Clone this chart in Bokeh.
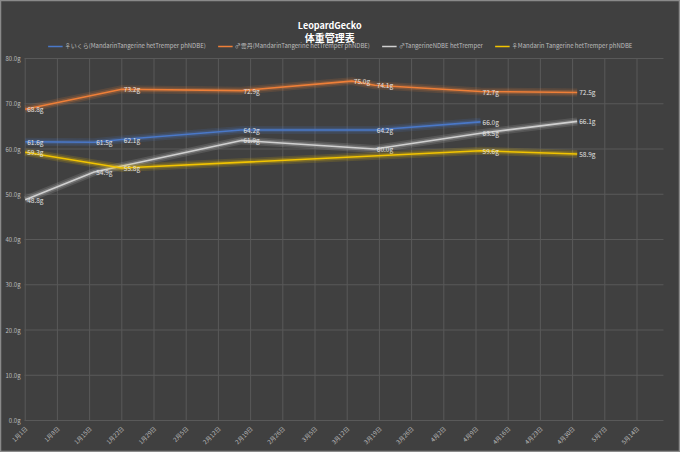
import math
import pandas as pd
from bokeh.plotting import figure
from bokeh.models import (ColumnDataSource, Range1d, Legend, LegendItem, Label)
from bokeh.embed import file_html
from bokeh.resources import INLINE
from bokeh.core.properties import value

YEAR = 2023
# ---- data ----
ikura_dates = ["2023-01-01", "2023-01-16", "2023-01-22", "2023-02-17", "2023-03-18", "2023-04-10"]
ikura_vals = [61.6, 61.5, 62.1, 64.2, 64.2, 66.0]

uni_dates = ["2023-01-01", "2023-01-22", "2023-02-17", "2023-03-13", "2023-03-18", "2023-04-10", "2023-05-01"]
uni_vals = [68.8, 73.2, 72.9, 75.0, 74.1, 72.7, 72.5]

tang_dates = ["2023-01-01", "2023-01-16", "2023-02-17", "2023-03-18", "2023-04-10", "2023-05-01"]
tang_vals = [48.8, 54.9, 61.9, 60.0, 63.5, 66.1]

mand_dates = ["2023-01-01", "2023-01-22", "2023-04-10", "2023-05-01"]
mand_vals = [59.3, 55.8, 59.6, 58.9]

series_names = [
    "♀いくら(MandarinTangerine hetTremper phNDBE)",
    "♂雲丹(MandarinTangerine hetTremper phNDBE)",
    "♂TangerineNDBE hetTremper",
    "♀Mandarin Tangerine hetTremper phNDBE",
]
series_colors = ["#4a78c8", "#ee7f38", "#d0d0d0", "#f2c400"]

tick_dates = ["2023-01-01", "2023-01-08", "2023-01-15", "2023-01-22", "2023-01-29",
              "2023-02-05", "2023-02-12", "2023-02-19", "2023-02-26", "2023-03-05",
              "2023-03-12", "2023-03-19", "2023-03-26", "2023-04-02", "2023-04-09",
              "2023-04-16", "2023-04-23", "2023-04-30", "2023-05-07", "2023-05-14"]
y_ticks = [0, 10, 20, 30, 40, 50, 60, 70, 80]
X_MIN, X_MAX = -0.15, 138.76   # axis extent in days
Y_MIN, Y_MAX = 0, 80
title_main = "LeopardGecko"
title_sub = "体重管理表"

FONT = "Noto Sans CJK JP"
base = pd.Timestamp(f"{YEAR}-01-01")


def to_days(dates):
    return [(pd.Timestamp(d) - base).days for d in dates]


# the frame covers the whole canvas; axis labels are drawn as text inside it
p = figure(width=680, height=452, output_backend="svg", toolbar_location=None,
           title_location=None, x_axis_type=None, y_axis_type=None,
           x_range=Range1d(-5.37, 142.46), y_range=Range1d(-7.07, 92.82),
           background_fill_color="#404040", border_fill_color="#404040",
           outline_line_color="#8a8a8a", outline_line_width=1.5,
           min_border_left=0, min_border_right=0, min_border_top=0, min_border_bottom=0)
p.xgrid.visible = False
p.ygrid.visible = False

tick_days = to_days(tick_dates)
n_x, n_y = len(tick_days), len(y_ticks)

# gridlines
p.segment(x0=tick_days, y0=[Y_MIN] * n_x, x1=tick_days, y1=[Y_MAX] * n_x,
          line_color="#595959", line_width=1)
p.segment(x0=[X_MIN] * n_y, y0=y_ticks, x1=[X_MAX] * n_y, y1=y_ticks,
          line_color="#595959", line_width=1)

# tick labels
ysrc = ColumnDataSource(dict(x=[X_MIN] * n_y, y=y_ticks, t=[f"{v:.1f}g" for v in y_ticks]))
p.text("x", "y", text="t", source=ysrc, text_align="right", text_baseline="middle",
       x_offset=-4, text_color="#bdbdbd", text_font=value(FONT), text_font_size="6px")
xsrc = ColumnDataSource(dict(x=tick_days, y=[Y_MIN] * n_x,
                             t=[f"{pd.Timestamp(s).month}月{pd.Timestamp(s).day}日" for s in tick_dates]))
p.text("x", "y", text="t", source=xsrc, angle=math.pi / 4, text_align="right",
       text_baseline="middle", x_offset=1, y_offset=7,
       text_color="#bdbdbd", text_font=value(FONT), text_font_size="6px")

all_dates = [ikura_dates, uni_dates, tang_dates, mand_dates]
all_vals = [ikura_vals, uni_vals, tang_vals, mand_vals]

items = []
for name, color, dts, vals in zip(series_names, series_colors, all_dates, all_vals):
    src = ColumnDataSource(dict(x=to_days(dts), y=vals, lab=[f"{v:.1f}g" for v in vals]))
    p.line("x", "y", source=src, line_color=color, line_width=8, line_alpha=0.15)
    p.line("x", "y", source=src, line_color=color, line_width=4.5, line_alpha=0.25)
    r = p.line("x", "y", source=src, line_color=color, line_width=1.6)
    p.text("x", "y", text="lab", source=src, text_color="#e0e0e0", text_font=value(FONT),
           text_font_size="6.5px", text_baseline="middle", text_align="left", x_offset=2)
    items.append(LegendItem(label=name, renderers=[r]))

legend = Legend(items=items, orientation="horizontal", location="top_center",
                background_fill_alpha=0, border_line_color=None,
                label_text_color="#bdbdbd", label_text_font=FONT,
                label_text_font_size="6px", label_height=8, glyph_width=15, glyph_height=6,
                spacing=12, padding=0, margin=41, label_standoff=2)
p.add_layout(legend, "center")

p.add_layout(Label(x=66.2, y=87.29, text=title_main, text_align="center", text_baseline="middle",
                   text_color="#ffffff", text_font=FONT, text_font_size="9px",
                   text_font_style="bold"))
p.add_layout(Label(x=66.2, y=84.64, text=title_sub, text_align="center", text_baseline="middle",
                   text_color="#ffffff", text_font=FONT, text_font_size="10px",
                   text_font_style="bold"))

open("out.html", "w").write(file_html(p, INLINE))
